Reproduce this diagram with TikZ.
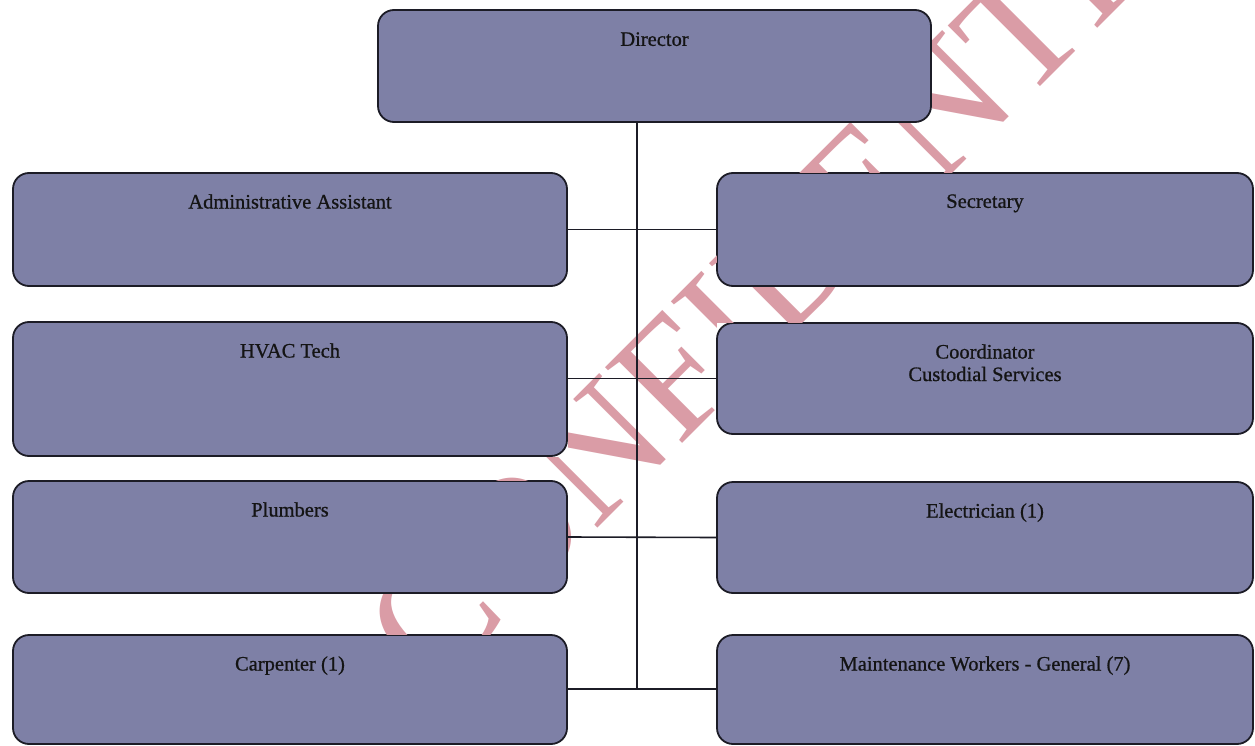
\documentclass[tikz,border=0pt]{standalone}
\usepackage{fontspec}
\setmainfont{Liberation Serif}
\newfontfamily\lblfont{Liberation Serif}[FakeBold=0.8]
\definecolor{boxfill}{RGB}{126,128,166}
\definecolor{boxline}{RGB}{28,28,38}
\definecolor{stamp}{RGB}{218,156,166}
\begin{document}
\begin{tikzpicture}[x=1pt,y=-1pt,
  unit/.style={draw=boxline, line width=1.8pt, fill=boxfill, rounded corners=16pt,
    rectangle, inner sep=0pt},
  lbl/.style={anchor=north, inner sep=0pt, align=center, text=black!92,
    font=\lblfont\fontsize{20.5}{22.5}\selectfont},
  link/.style={draw=boxline, line width=1.6pt},
  hole/.style args={#1}{insert path={(#1.north west) -- (#1.south west) -- (#1.south east) -- (#1.north east) -- cycle}}]
\useasboundingbox (0,0) rectangle (1255,746);
\fill[white] (0,0) rectangle (1255,746);

% positions
\node[unit, minimum width=553pt, minimum height=112pt] (director) at (654.5,66) {};
\node[unit, minimum width=554pt, minimum height=113pt] (admin) at (290,229.5) {};
\node[unit, minimum width=554pt, minimum height=134pt] (hvac) at (290,389) {};
\node[unit, minimum width=554pt, minimum height=112pt] (plumb) at (290,537) {};
\node[unit, minimum width=554pt, minimum height=109pt] (carp) at (290,689.5) {};
\node[unit, minimum width=536pt, minimum height=113pt] (secr) at (985,229.5) {};
\node[unit, minimum width=536pt, minimum height=111pt] (coord) at (985,378.5) {};
\node[unit, minimum width=536pt, minimum height=111pt] (elec) at (985,537.5) {};
\node[unit, minimum width=536pt, minimum height=109pt] (maint) at (985,689.5) {};

% diagonal stamp, shown only on the paper between the boxes
% (outer frame one way round, the box outlines the other way round)
\begin{scope}
\clip (0,0) -- (1255,0) -- (1255,746) -- (0,746) -- cycle
  [hole=director] [hole=admin] [hole=hvac] [hole=plumb] [hole=carp]
  [hole=secr] [hole=coord] [hole=elec] [hole=maint];
\node[rotate=45, text=stamp, inner sep=0pt,
  font=\fontsize{165}{165}\selectfont] (stampword) at (822,228) {CONFIDENTIAL};
\end{scope}

% reporting lines
\coordinate (spineend) at (637,689);
\draw[link] (director.south -| spineend) -- (spineend);
\draw[link] (admin.east) -- (secr.west);
\draw[link] (hvac.east |- coord.west) -- (coord.west);
\draw[link] (plumb.east) -- (elec.west);
\draw[link] (carp.east |- spineend) -- (maint.west |- spineend);

% titles
\node[lbl] (tdirector) at ([yshift=-23pt]director.north) {Director};
\node[lbl] (tadmin) at ([yshift=-22pt]admin.north) {Administrative Assistant};
\node[lbl] (thvac) at ([yshift=-22pt]hvac.north) {HVAC Tech};
\node[lbl] (tplumb) at ([yshift=-22pt]plumb.north) {Plumbers};
\node[lbl] (tcarp) at ([yshift=-22pt]carp.north) {Carpenter (1)};
\node[lbl] (tsecr) at ([yshift=-22pt]secr.north) {Secretary};
\node[lbl] (tcoord) at ([yshift=-22pt]coord.north) {Coordinator\\Custodial Services};
\node[lbl] (telec) at ([yshift=-22pt]elec.north) {Electrician (1)};
\node[lbl] (tmaint) at ([yshift=-22pt]maint.north) {Maintenance Workers - General (7)};
\end{tikzpicture}
\end{document}
